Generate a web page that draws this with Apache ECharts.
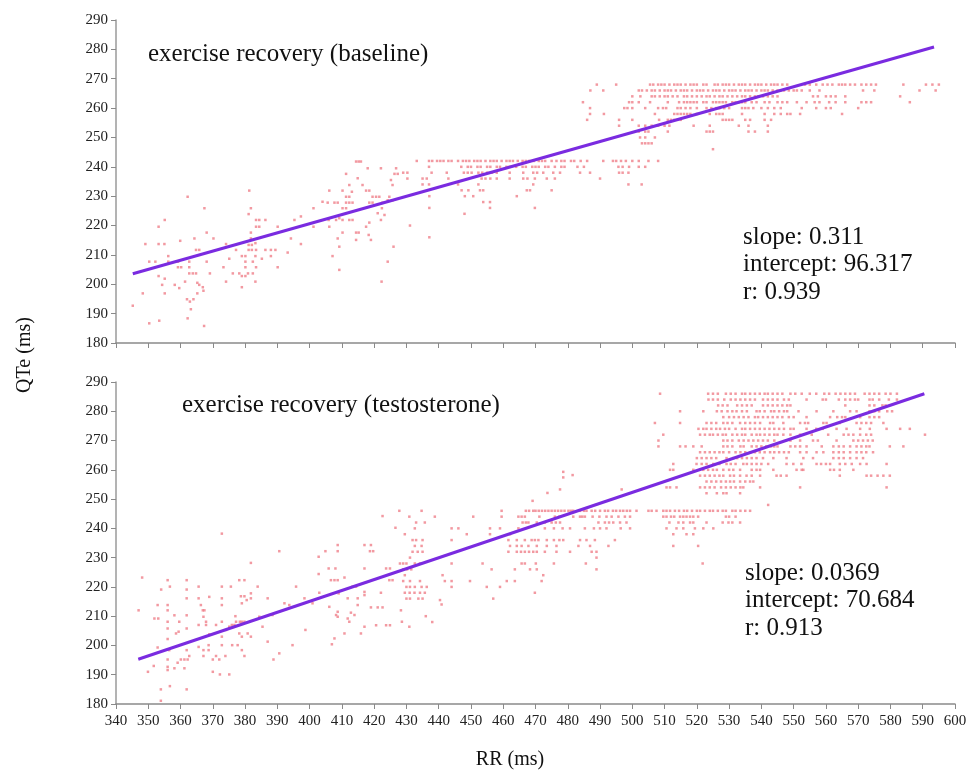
<!DOCTYPE html>
<html>
<head>
<meta charset="utf-8">
<script src="https://cdn.jsdelivr.net/npm/echarts@6/dist/echarts.min.js"></script>
<style>
  html, body { margin: 0; padding: 0; background: #fff; }
  #chart { width: 979px; height: 774px; }
</style>
</head>
<body>
<div id="chart"></div>
<script>
// ---- data (RR ms, QTe ms) ----
const xTicks = [340, 600, 10]
const yTicks = [180, 290, 10]

// baseline: scattered points
const baselinePoints = [
  [345.2,192.7],[348.3,196.9],[350.3,186.7],[353.4,187.6],[349.1,213.7],[350.3,207.7],[352.2,207.7],[353.2,219.6],
  [353.2,213.7],[355,213.7],[355.1,221.9],[353.2,202.8],[355.1,201.9],[354.3,199.8],[355.1,196.9],[356.2,209.6],
  [356.2,207.7],[358.2,199.8],[359.2,207.7],[359.2,205.8],[359.9,214.8],[360.2,205.8],[359.6,198.7],[361.4,200.9],
  [362.2,229.8],[362.2,188.4],[362.7,207.7],[362.7,205.8],[362.7,203.7],[363.8,203.7],[364.8,203.7],[362,194.9],
  [362.9,194.1],[364,194.9],[363.2,191.5],[364.3,215.6],[364.8,211.7],[365.8,211.7],[365.2,200.5],[365.8,199.8],
  [366.9,199],[367.1,197.8],[365.2,196.9],[367.4,225.9],[367.3,185.8],[368.1,217.6],[368.1,207.7],[369.1,203.7],
  [370.2,215.6],[373.3,205.8],[374.1,213.7],[374.1,200.9],[375.1,208.7],[376.2,203.7],[377.2,211.7],[378.2,203.7],
  [379,209.6],[380.1,209.6],[379,202.8],[380.1,202.8],[379,199],[380.1,207.7],[380.1,205.8],[380.9,203.7],
  [381.3,231.9],[381.1,223.9],[381.8,225.9],[381.8,215.6],[381.8,217.6],[381.1,211.7],[382.1,211.7],[381.1,213.4],
  [382.1,213.4],[383.4,221.9],[384.4,221.9],[383.4,219.6],[384.4,219.6],[383.2,214],[383.4,211.7],[383.2,209.6],
  [382.4,207.7],[383.4,205.8],[382.4,203.7],[383.2,200.9],[386.3,221.9],[386.3,211.7],[388,211.7],[389.4,211.7],
  [385.2,208.7],[388,209.6],[390.1,219.6],[390.1,205.8],[393.2,210.8],[394.2,215.6],[395.3,221.9],[397.3,223.1],
  [397.3,213.7],[401.2,225.9],[401.2,219.6],[404,228.1],[405.6,227.8],[407.7,227.8],[408.7,227.8],[406.1,231.9],
  [405.9,221.9],[408.2,221.9],[409.2,222.5],[406.1,219.6],[407.1,209.6],[408.7,215.6],[409.2,204.9],[409.2,212.8],
  [410.2,231.9],[411.3,229.8],[412.3,229.8],[411.3,227.8],[412.3,227.8],[413.3,227.8],[410.2,225.9],[411.3,225.9],
  [410.2,221.9],[412.3,221.9],[413.3,221.9],[410.2,217.6],[411.3,237.6],[412.3,233.8],[413.1,231.5],[414.4,241.8],
  [415.2,241.8],[415.9,241.8],[414.9,236.1],[414.4,217.6],[415.2,217.6],[414.4,215.1],[416.4,233.8],[417.5,231.9],
  [418.5,231.9],[419.5,229.8],[420.6,229.8],[418.5,227.8],[419.5,227.8],[418,239.5],[418.5,221],[417.5,219.6],
  [418.3,216.8],[419,215.1],[421.6,229.8],[422.6,227.8],[422.4,225.9],[424.2,228.6],[424.7,229.8],[425.7,228.6],
  [422.1,239.5],[422.3,200.9],[424.2,207.7],[426,212.8],[426.3,237.6],[427.3,237.6],[426.8,239.5],[425.2,235.5],
  [425.7,233.8],[423.2,223.6],[422.1,221.9],[421.1,224.2]
]
// baseline: dense rows, first value is QTe, the rest are RR values on that row
const baselineRows = [
  [268, 489, 495, 505.5, 506.5, 508, 509, 510, 511.5, 513, 514, 515, 516.5, 518, 519, 520, 522, 523, 525.5, 526.5, 528, 529, 530, 531.5, 533, 534, 535, 536.5, 538, 539, 540, 541.5, 543, 544, 545, 546.5, 548, 553.5, 555, 557, 559, 560.5, 562, 564, 565, 566, 567.5, 569, 571, 572.5, 574, 575.5, 584, 591, 593, 595],
  [266, 487, 491, 502, 503, 504.5, 506, 507, 508.5, 510, 511, 512, 513.5, 515, 516, 517, 518.5, 520, 521, 522, 523.5, 525, 526, 527, 528.5, 530, 531, 532, 533.5, 535, 536, 537, 538.5, 540, 541, 542, 543.5, 545, 546, 547, 548.5, 550, 551, 552.5, 555, 558, 571.5, 575, 589, 594],
  [264, 500, 502.5, 506, 507, 508.5, 510, 511, 512.5, 514, 516, 517, 518.5, 520, 521.5, 523, 524, 525.5, 527, 528, 529.5, 531, 532.5, 534, 535, 536.5, 538, 539, 540.5, 542, 543.5, 545, 556, 557.5, 560, 561.5, 563, 566, 583],
  [262, 484.7, 499, 500, 502, 505.5, 511, 514.5, 516, 517, 518, 519, 520, 522, 523, 525, 526, 527, 528, 529, 531, 532, 533, 534, 535, 537, 538.5, 541, 542.5, 545, 546.5, 548, 551, 554, 556.5, 558, 561, 563, 566, 571, 572.5, 574, 586],
  [260, 486.9, 497.5, 498.5, 500, 504, 508, 509.5, 510.5, 514, 515, 516.5, 518, 520, 523, 524.5, 526, 527, 528.5, 530, 534, 535, 536, 537.5, 540, 542, 544, 546, 552.5, 557, 560, 561.5, 570],
  [258, 486.9, 491.2, 507, 513, 514, 515, 516, 517, 518, 520, 524, 526, 527, 528, 534, 541, 544, 546, 548, 549, 552, 565],
  [256, 486, 495.9, 500, 508.3, 511, 512, 513, 514, 515, 528, 529, 530, 531, 535, 536.5, 541, 543],
  [254, 495.9, 502, 504, 506, 508, 510, 511.5, 519, 524, 533, 536, 542],
  [252, 502, 504, 505, 511, 523, 524, 525, 536, 538, 542],
  [250, 502.4, 504, 507],
  [248, 503, 504, 505, 506],
  [246, 525],
  [242, 433.2, 437, 438, 439.5, 440.5, 441.5, 443, 444, 446, 447.5, 448.5, 449.5, 451, 452, 453, 454.5, 456, 457, 458, 459.5, 461, 462, 463, 464.5, 466, 467, 468, 469.5, 471, 472, 473, 475, 476.5, 478, 479, 481, 482, 484, 486, 491, 494, 495, 496.5, 498, 500, 502, 505, 508],
  [240, 437, 447, 449, 450, 452, 453, 455, 456, 458, 459, 461, 462, 464, 466, 467, 469, 470, 471, 473, 474, 476, 478, 479, 483, 485, 495.7, 497, 499, 502, 504],
  [238, 429, 430.3, 437.8, 442.5, 447.8, 449, 450.2, 452.3, 453.5, 455, 456.5, 458, 462, 466.2, 469.3, 470.5, 472.4, 475.5, 477.6, 483.8, 486.9, 495.9, 497, 498.8],
  [236, 430.3, 435, 436.3, 443, 453.3, 454.5, 456, 458, 462, 466.2, 467.5, 469.8, 473.5, 476, 490],
  [234, 435, 437, 446, 452.3, 469.3, 498.8, 502.9],
  [232, 447.1, 449.2, 452.8, 453.8, 467.3, 468.3, 475],
  [230, 437.1, 448.1, 450.7, 464.2],
  [228, 453.8, 455.9],
  [226, 437.1, 455.9, 469.8],
  [224, 448],
  [220, 431.1],
  [216, 437.1]
]
// testosterone: scattered points
const testoPoints = [
  [348.1,223.2],[347,212],[349.9,191],[351.7,193],[351.9,209.2],[353.1,209.2],[352.9,213.8],[352.9,199.3],
  [354,219.1],[353.9,185],[353.9,181.1],[356,222.3],[356,213.8],[356,212],[356,208.1],[356,205.8],[356,202.2],
  [356.5,198.4],[356,195.2],[356,192.7],[356,191.6],[356.7,220.1],[356.7,186.1],[358.1,210.3],[358.6,204.1],
  [359.4,204.7],[358.1,192.2],[359.1,194.1],[360.1,195.2],[361.2,195.2],[362.2,195.2],[359.6,208.1],[361.2,192.2],
  [361.9,222.3],[361.9,219.1],[361.9,216.1],[361.9,210.3],[361.9,205.8],[361.9,198.4],[361.9,185],[362.7,196.4],
  [365.6,220.1],[365.6,216.1],[365.6,207],[365.6,199.5],[366.3,213.8],[366.9,212],[367.4,212],[367.1,209.8],
  [367.9,208.1],[367.9,207],[367.1,198.4],[368.7,200.1],[368.7,198.4],[367.1,196.4],[371,196.4],[368.9,216.6],
  [368.9,203.8],[371,207],[372.8,220.1],[372.8,216.1],[372.8,213.8],[372.8,208.1],[372.8,203],[372.8,200.1],
  [372.8,238.2],[370,195.2],[372,195.2],[370,191],[372.2,190.1],[375.1,190.1],[373.9,196.4],[374.1,205.3],
  [375.1,206.4],[375.9,207],[376.7,207],[377.2,208.1],[375.6,220.1],[376,200.1],[377,210],[378.4,208.1],
  [379,208.1],[379.8,208.1],[378.2,222.3],[379.8,222.3],[378.7,216.8],[379.8,216.8],[379,214.4],[380.5,215.5],
  [378.2,204.1],[379,203],[380.8,204.1],[381.8,203],[377.7,200.1],[379.8,196.4],[379,198.4],[381.8,228.2],
  [381.8,217.8],[381.8,216.1],[383.9,220.1],[384.4,209.8],[385.4,206.4],[387,216.1],[387,201.3],[388.5,210.4],
  [388.8,195.2],[390.6,232.2],[390.6,197.3],[392.2,214.4],[393.7,213.8],[394.7,200.1],[395.8,220.1],[398.4,216.1],
  [398.7,205.3],[400.9,214.4],[402.8,230.3],[402.8,224.4],[403,218],[404.9,232.2],[405.9,226.3],[406.1,213.2],
  [406.6,222.3],[407.7,222.3],[408.7,222.3],[406.9,200.4],[407.7,202.4],[408,226.3],[408.2,210.4],[408.7,211.5],
  [408.7,209.8],[408.7,234.3],[408.7,232.2],[409,217.8],[410.8,223.2],[410.8,204.1],[411.8,216.1],[411.8,209.2],
  [412.3,208.1],[412.8,211.2],[413.3,220.1],[414.4,220.1],[413.9,210.4],[414.9,216.1],[414.9,213.8],[415.9,204.1],
  [417,234.3],[417,226.3],[417,206.4],[417,218.3],[417,217.2],[418.7,232.2],[419.7,232.2],[419,234.3],[419,213],
  [420.6,206.9],[421.1,213],[422.6,213],[422.1,218],[423.7,206.9],[424.9,206.9],[422.6,244.2],[423.7,226.3],
  [424.9,226.3],[424.7,222.3],[425.7,222.3],[426.6,240.2],[427.8,246],[428.3,212],[428.6,208.1],[430.9,206.4],
  [436,210],[438,208],[440.4,215.5],
  [478.6,259.3],[478.6,257.4],[481.5,258.2],[477.6,253.3],[473.7,252.1],[469.1,249.4],[496.7,253.3],[542.1,248]
]
// testosterone: dense rows, first value is QTe
const testoRows = [
  [286, 508.6, 523.5, 525, 526.5, 529, 530.5, 532, 534, 535, 536.5, 538, 539.5, 541, 542, 543.5, 545, 546.5, 549, 550.5, 552.5, 555, 557, 559.5, 561, 563, 564.5, 566, 567.5, 569, 572, 573.5, 575, 576.5, 578.5, 580, 582],
  [284, 523.6, 525, 526.5, 528.5, 530.5, 532, 533.5, 535, 536.5, 538, 540.5, 542, 543.5, 545, 547, 548.5, 554, 559, 560, 564, 566, 567.5, 569, 570, 573.5, 574.5, 576.5, 579.5, 582],
  [282, 526.6, 528, 529.5, 532.5, 534, 535.5, 537, 540.5, 542, 543.5, 545, 546.5, 548, 549, 566, 573.5, 575, 577.5, 578.5],
  [280, 514.8, 522, 526.2, 527.7, 529.5, 531, 532.3, 534, 535.5, 538.5, 539.5, 541, 543, 544, 545.5, 547, 548, 551.5, 557.1, 562.3, 567.5, 569.5, 573.5, 575, 576.5, 579, 580.5],
  [278, 528.2, 530, 531.5, 533, 534.5, 536, 538, 539, 540.5, 542, 543.5, 545, 546.5, 548.5, 550, 554, 561.3, 563.5, 565, 566, 570.6, 573.5, 575, 576.5],
  [276, 507, 514.8, 523, 524.5, 526, 528.2, 529.5, 531, 533.4, 535, 536.5, 538, 539.6, 542.7, 543.7, 546.8, 552, 553.5, 554.5, 559.2, 560.2, 564.3, 569.5, 571, 572.5, 574, 577.8],
  [274, 520.5, 522, 523, 524.5, 526, 527.2, 528.7, 530, 532, 534, 535, 536.5, 538, 539.5, 541, 542.5, 544, 545.5, 547, 549, 550, 554, 557, 559, 563.3, 566.4, 570.6, 573.6, 578.8, 583, 586],
  [272, 509.6, 521, 522.5, 524, 525, 526.5, 528, 529, 531, 532.5, 534, 535, 537, 538.5, 539.6, 541, 542.5, 544, 545, 546.8, 549, 552, 555.6, 560.7, 565.5, 567, 568.5, 570.6, 572.5, 574, 590.7],
  [270, 508.1, 528.2, 529.5, 531, 533, 534.5, 536, 537.5, 539, 540.5, 542, 544, 549, 552, 556, 557.5, 563.3, 568.5, 570, 571.5, 573, 574.5],
  [268, 508.1, 514.8, 516.5, 518.9, 521.5, 528.2, 529.5, 531, 533.5, 534.5, 537, 538.5, 540, 541.5, 543, 544, 545, 549, 550.5, 552, 554, 558.7, 562.3, 564, 565.5, 567.5, 569.5, 571, 572.5, 573.5, 579.8, 584],
  [266, 521, 522.5, 524, 525.5, 527, 528.2, 530, 532, 533.5, 535, 536.5, 538, 539.5, 541, 542.7, 544, 545.5, 547, 548.5, 552, 554, 557.1, 559.2, 562.3, 564, 565.5, 567.5, 569.5, 571, 572.5, 574.6],
  [264, 520, 521.5, 523, 524.5, 526, 529.2, 531.3, 532.5, 534, 535.5, 537, 538.5, 540.5, 543.7, 547.8, 553, 556, 562.3, 564, 565.5, 567.5, 569.5, 571.5],
  [262, 512.7, 519.9, 521.5, 523, 525.1, 527, 529.2, 530.5, 532, 534.4, 535.5, 537, 538.5, 540, 542.1, 547.8, 549.9, 552.4, 557.1, 558.5, 560, 561.3, 564.3, 566, 568, 570.6, 572.6, 578.8],
  [260, 511.7, 512.7, 518.9, 522, 523.5, 525, 526.2, 528.2, 530, 531.3, 533.4, 537, 538.5, 539.6, 543.7, 550.9, 552.5, 553, 561.3, 562.5, 564.3, 568.5],
  [258, 521, 522.5, 524, 525.5, 527, 528.2, 530.3, 531.5, 533.4, 535.4, 537, 539.6, 544.7, 546, 547.8, 564.3, 572.6, 574, 576, 577.8, 579.8],
  [256, 523, 524.5, 526, 527.5, 529, 530.3, 531.5, 533.4, 535, 536.5, 537.5],
  [254, 510.6, 511.7, 513.7, 521, 522.5, 524, 525.5, 527.5, 529, 530.5, 532, 533.5, 534.4, 539.6, 552, 578.8],
  [252, 523, 526.2, 528.2, 529.2, 533.4],
  [246, 434.7, 459.5, 467, 468, 469.3, 470, 471, 472, 473, 474, 475, 476, 477, 478, 479, 480.2, 481, 481.7, 483.8, 485, 485.8, 487.4, 488.5, 490, 491.5, 492.5, 494, 495, 496.2, 497.2, 498.3, 499.3, 501.3, 505, 506, 507.5, 509.6, 510.6, 511.7, 513.2, 514.5, 516, 517, 518.5, 520, 521, 522.5, 524, 525, 526.5, 528, 529, 531, 532, 533.5, 535, 536.5],
  [244, 430.9, 438.8, 450.7, 459.5, 464.7, 465.7, 466.7, 471.2, 476, 477.4, 481.7, 483.8, 484.5, 485.3, 487.7, 489.8, 492, 493.6, 495.7, 497.7, 499.3, 509.6, 510.6, 512, 513, 514.8, 515.8, 516.8, 517.9, 518.9, 520.4, 529, 530, 532],
  [242, 433, 435.7, 466, 467, 467.8, 470.4, 472.9, 475, 476.3, 477.6, 489.5, 491.5, 492.8, 494.1, 496.2, 498.2, 511.5, 514.3, 515.8, 517.9, 518.9, 523, 528, 529.8, 531, 533.4],
  [240, 432.6, 444, 446.1, 455.9, 459, 464.7, 472.9, 475.7, 478.4, 480.7, 485.3, 488.1, 490, 492, 496.4, 499.3, 510.6, 513.7, 515.8, 519.4, 522, 525.1],
  [238, 429.5, 448.7, 455.9, 462.1, 512.7, 516.8, 518.9],
  [236, 431.9, 433, 435, 444, 461.6, 464.2, 466.7, 468.8, 469.8, 470.9, 473.5, 475.7, 477.4, 478.6, 483.8, 485.8, 488.4, 494.6],
  [234, 432.6, 434.7, 462.1, 464.2, 465.7, 467.8, 470.4, 473.5, 476.5, 483.3, 486.9, 492.6, 512.7, 520.4],
  [232, 431.9, 433.5, 435, 461.6, 464.2, 465.5, 466.7, 468, 469.3, 470.4, 472.9, 476.5, 480.7, 487.4, 488.9],
  [230, 431.1, 488.9],
  [228, 428, 429, 430, 432.6, 434.2, 444, 453.6, 465.7, 466.7, 470.1, 475.7, 485.6, 521.8],
  [226, 429, 430.2, 431.5, 456.4, 463.6, 468.3, 470.4, 488.9],
  [224, 429.5, 441.2, 472.4],
  [222, 429, 431.1, 434.2, 441.9, 444, 449.7, 461.1, 463.6, 471.9],
  [220, 430, 431.1, 432.6, 434.7, 436.3, 444, 454.9, 459],
  [218, 429.5, 431, 432.5, 434.2, 435.7, 469.8],
  [216, 430, 431.1, 433.7, 435, 456.9],
  [214, 440.9]
]
// fitted lines, end points as drawn
const baselineFit = [[345.2, 203.6], [593.5, 280.8]]
const testoFit = [[346.9, 195.3], [590.5, 286]]

const baselineStats = ['slope: 0.311', 'intercept: 96.317', 'r: 0.939']
const testoStats = ['slope: 0.0369', 'intercept: 70.684', 'r: 0.913']

function rowsToPoints(rows) {
  return rows.flatMap(r => r.slice(1).map(x => [x, r[0]]))
}

const serif = '"Liberation Serif", "Times New Roman", serif'
const dotColor = '#ef7f8a'
const fitColor = '#7a2be0'

const chart = echarts.init(document.getElementById('chart'))

function xAxisOf(idx, showLabel) {
  return {
    gridIndex: idx,
    type: 'value',
    min: xTicks[0],
    max: xTicks[1],
    interval: xTicks[2],
    axisLine: { onZero: false, lineStyle: { color: '#8a8a8a', width: 1.5 } },
    axisTick: { show: true, length: 5, lineStyle: { color: '#8a8a8a' } },
    axisLabel: { show: showLabel, fontFamily: serif, fontSize: 15, color: '#222', margin: 10 },
    splitLine: { show: false },
  }
}
function yAxisOf(idx) {
  return {
    gridIndex: idx,
    type: 'value',
    min: yTicks[0],
    max: yTicks[1],
    interval: yTicks[2],
    axisLine: { show: true, onZero: false, lineStyle: { color: '#9a9a9a', width: 1.5 } },
    axisTick: { show: true, length: 5, lineStyle: { color: '#8a8a8a' } },
    axisLabel: { fontFamily: serif, fontSize: 15, color: '#222', margin: 8 },
    splitLine: { show: false },
  }
}
function statText(lines, x, y0) {
  return lines.map((t, i) => ({
    type: 'text',
    x: x,
    y: y0 + i * 27.5,
    style: { text: t, font: '25px ' + serif, fill: '#111', verticalAlign: 'middle' },
  }))
}

const option = {
  animation: false,
  backgroundColor: '#fff',
  grid: [
    { left: 116, top: 20, width: 839, height: 323 },
    { left: 116, top: 382, width: 839, height: 322 },
  ],
  xAxis: [xAxisOf(0, false), xAxisOf(1, true)],
  yAxis: [yAxisOf(0), yAxisOf(1)],
  series: [
    {
      type: 'scatter', xAxisIndex: 0, yAxisIndex: 0,
      symbol: 'rect', symbolSize: 2.5,
      itemStyle: { color: dotColor },
      data: baselinePoints.concat(rowsToPoints(baselineRows)),
    },
    {
      type: 'scatter', xAxisIndex: 1, yAxisIndex: 1,
      symbol: 'rect', symbolSize: 2.5,
      itemStyle: { color: dotColor },
      data: testoPoints.concat(rowsToPoints(testoRows)),
    },
    {
      type: 'line', xAxisIndex: 0, yAxisIndex: 0, z: 5,
      symbol: 'none', lineStyle: { color: fitColor, width: 3 },
      data: baselineFit,
    },
    {
      type: 'line', xAxisIndex: 1, yAxisIndex: 1, z: 5,
      symbol: 'none', lineStyle: { color: fitColor, width: 3 },
      data: testoFit,
    },
  ],
  graphic: [
    { type: 'text', x: 148, y: 54, style: { text: 'exercise recovery (baseline)', font: '25px ' + serif, fill: '#111', verticalAlign: 'middle' } },
    { type: 'text', x: 182, y: 405, style: { text: 'exercise recovery (testosterone)', font: '25px ' + serif, fill: '#111', verticalAlign: 'middle' } },
    ...statText(baselineStats, 743, 237),
    ...statText(testoStats, 745, 573),
    // axis titles
    { type: 'text', x: 25, y: 355, rotation: Math.PI / 2, style: { text: 'QTe (ms)', font: '20px ' + serif, fill: '#111', align: 'center', verticalAlign: 'middle' } },
    { type: 'text', x: 510, y: 760, style: { text: 'RR (ms)', font: '20px ' + serif, fill: '#111', align: 'center', verticalAlign: 'middle' } },
  ],
}

chart.setOption(option)
</script>
</body>
</html>
